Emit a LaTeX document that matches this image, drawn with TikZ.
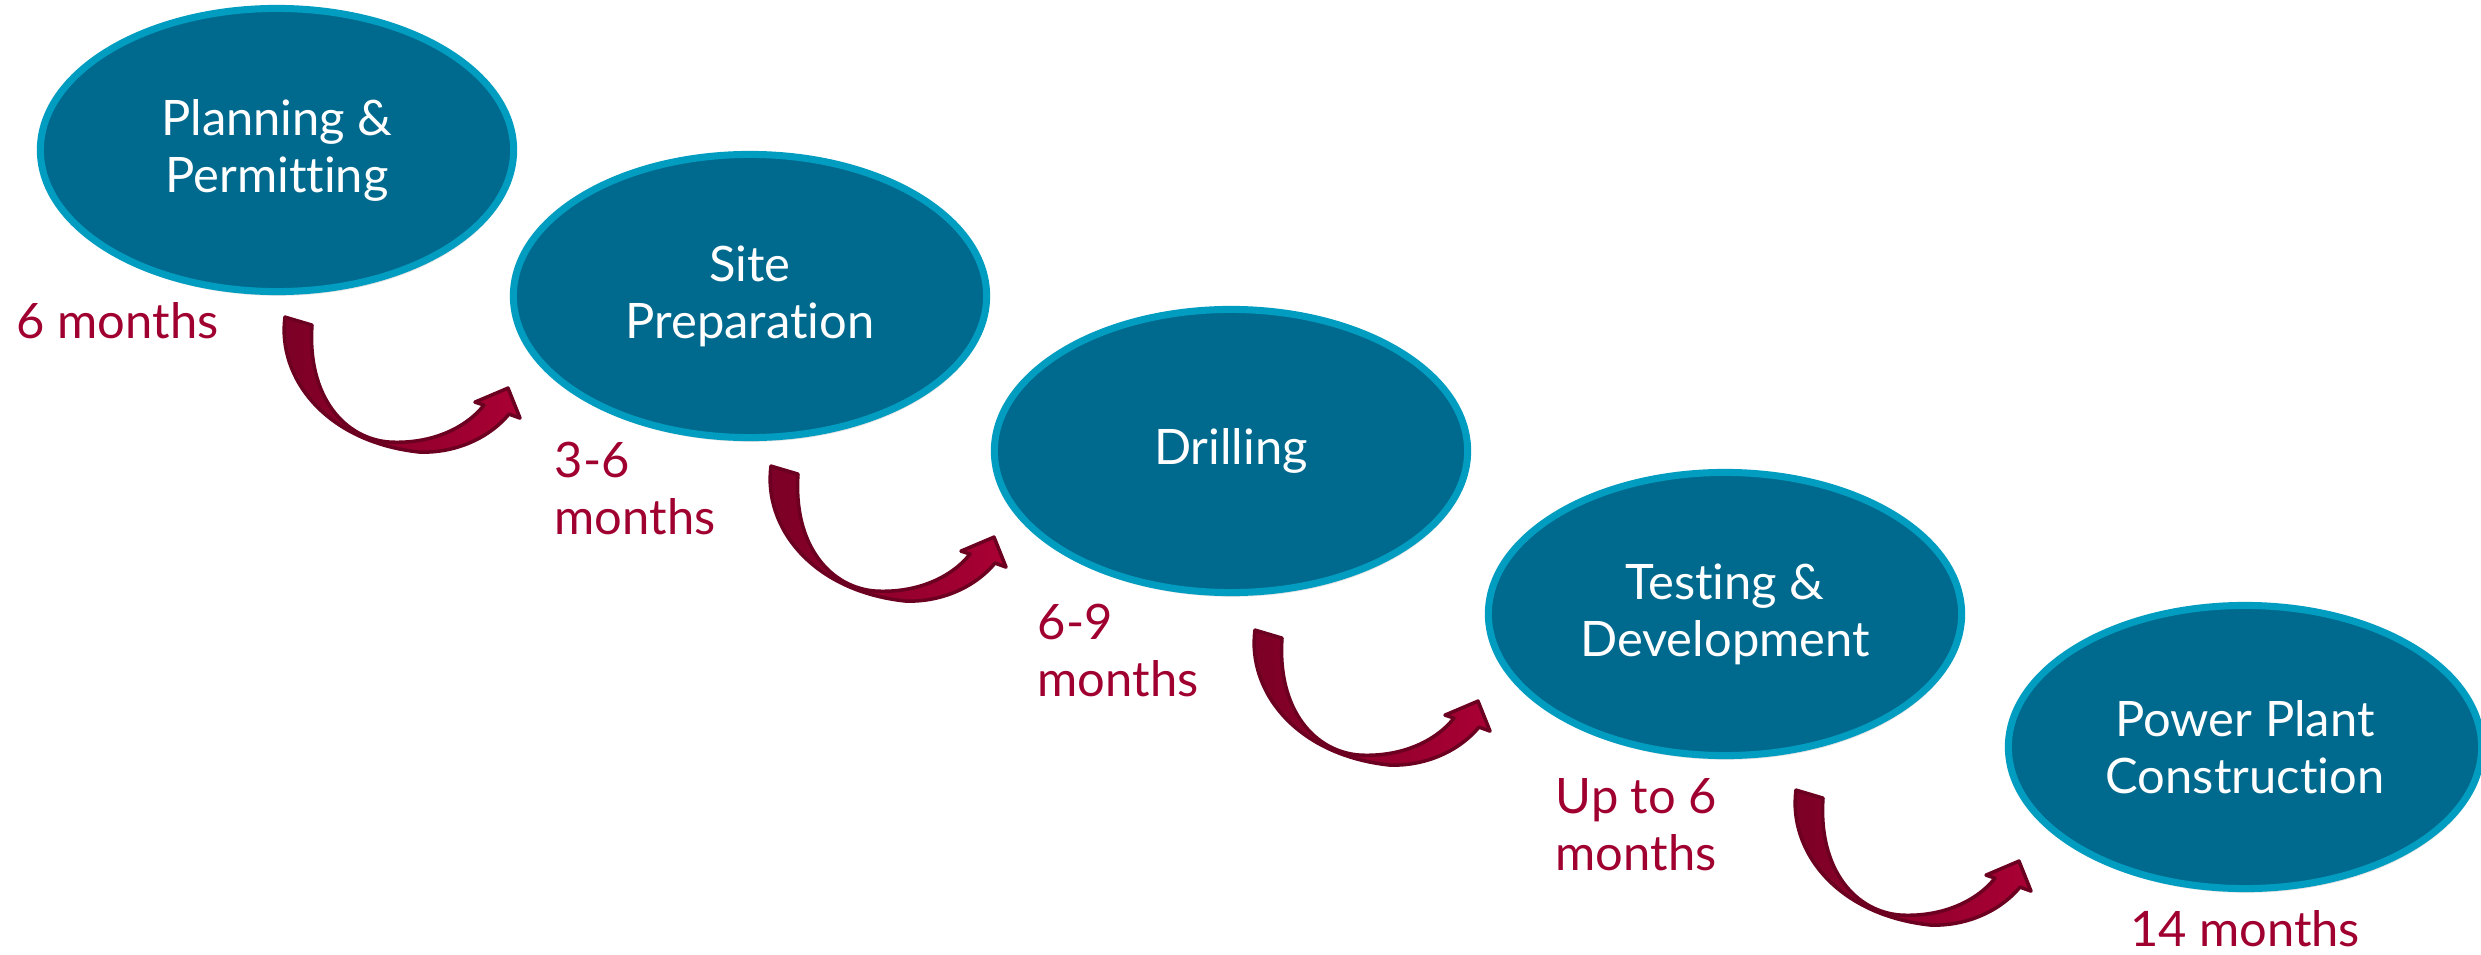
\documentclass[tikz,border=0pt]{standalone}
\usepackage{fontspec}
\setmainfont{Lato}[Ligatures={NoCommon}]
\usepackage{xcolor}
\usepackage{tikz}
\usetikzlibrary{positioning, shapes.geometric, shadows}

\definecolor{stagefill}{RGB}{0,106,142}
\definecolor{stagerim}{RGB}{0,157,192}
\definecolor{spanred}{RGB}{160,0,48}
\definecolor{arrowdark}{RGB}{122,0,38}
\definecolor{arrowred}{RGB}{170,0,52}
\definecolor{arrowedge}{RGB}{108,0,32}

\begin{document}
\begin{tikzpicture}[
    x=0.01cm, y=-0.01cm,
    stage/.style={ellipse, draw=stagerim, fill=stagefill, line width=2pt, minimum width=4.73cm, minimum height=2.83cm, align=center, text=white, font=\fontsize{13.9}{16.2}\selectfont, drop shadow={shadow xshift=0.4pt, shadow yshift=-1.2pt, opacity=0.22}},
    span/.style={inner sep=0pt, align=left, text=spanred, font=\fontsize{13.9}{16.2}\selectfont},
    turn/.pic={
        \path [left color=arrowdark, right color=arrowred, draw=arrowedge, line width=1pt, line join=round]
            (0,0) .. controls (-8,60) and (40,125) .. (135,135)
            .. controls (172,136) and (205,120) .. (224,97)
            -- (235,101) -- (223,71) -- (190,85) -- (199,88)
            .. controls (180,112) and (145,127) .. (105,125)
            .. controls (60,122) and (22,80) .. (27,8) -- cycle;
    }
]
    \useasboundingbox (0,0) rectangle (2481,954);

    \node [stage] (plan) at (277,150) {Planning \&\\Permitting};
    \node [stage] (site) at (750,296) {Site\\Preparation};
    \node [stage] (drill) at (1231,451) {Drilling};
    \node [stage] (test) at (1725,614) {Testing \&\\Development};
    \node [stage] (plant) at (2245,747) {Power Plant\\Construction};

    \node [span, anchor=north west] (tplan) at (16,302) {6 months};
    \node [span, anchor=north west] (tsite) at (554,441) {3-6\\months};
    \node [span, anchor=north west] (tdrill) at (1037,603) {6-9\\months};
    \node [span, anchor=north west] (ttest) at (1555,778) {Up to 6\\months};
    \node [span, anchor=north] (tplant) at (2245,910) {14 months};

    \path (plan.south) ++(8,22) pic {turn};
    \path (site.south) ++(21,25) pic {turn};
    \path (drill.south) ++(24,34) pic {turn};
    \path (test.south) ++(71,31) pic {turn};
\end{tikzpicture}
\end{document}
